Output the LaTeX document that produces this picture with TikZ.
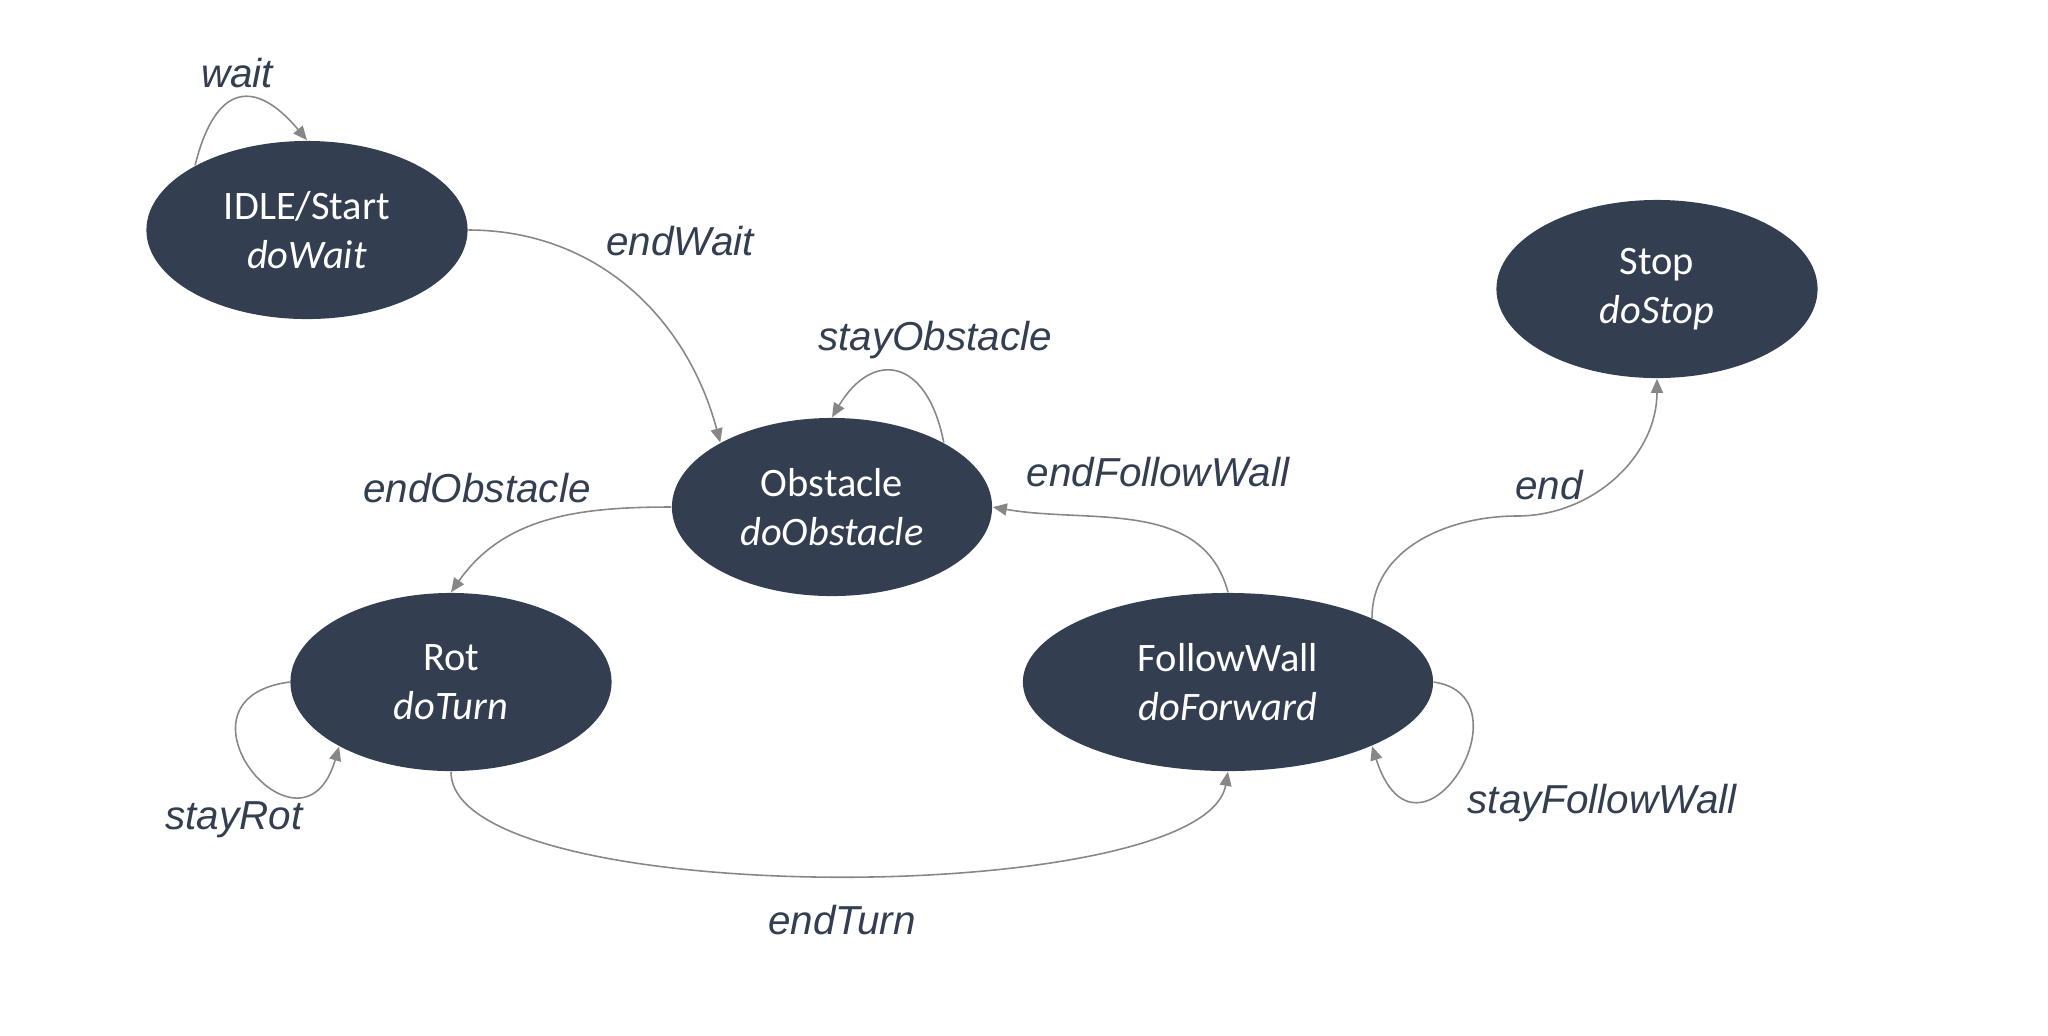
\documentclass[tikz,border=0pt]{standalone}
\usepackage{fontspec}
\setmainfont{Carlito}
\newfontfamily\labelFont{Liberation Sans}
\usetikzlibrary{shapes.geometric, arrows.meta}
\definecolor{stateColor}{RGB}{51,63,80}
\definecolor{arrowColor}{RGB}{135,135,135}
\tikzstyle{diagram} = [x = .01cm, y = .01cm]
\tikzstyle{stateStyle} = [ellipse, fill=stateColor, text=white, minimum height = 1.78cm, inner sep = 0pt, align=center, font=\fontsize{11.5}{14}\selectfont]
\tikzstyle{transitionStyle} = [draw=arrowColor, line width = .45pt, -{Triangle[length=4pt, width=3.4pt]}]
\tikzstyle{labelStyle} = [text=stateColor, inner sep = 0pt, font=\labelFont\itshape\fontsize{11.5}{14}\selectfont]
\newcommand{\stateNode}[5]{\node [stateStyle, minimum width = #5] (#1) at #2 {#3\\\textit{#4}};}
\newcommand{\transitionLabel}[3]{\node [labelStyle] (#1) at #2 {#3};}
\begin{document}
\begin{tikzpicture}[diagram]
  \useasboundingbox (0,0) rectangle (2048,-1035);
  \stateNode{idle}{(307,-230)}{IDLE/Start}{doWait}{3.21cm}
  \stateNode{stop}{(1657,-289)}{Stop}{doStop}{3.21cm}
  \stateNode{obstacle}{(832,-507)}{Obstacle}{doObstacle}{3.20cm}
  \stateNode{rot}{(451,-682)}{Rot}{doTurn}{3.21cm}
  \stateNode{followWall}{(1228,-682)}{FollowWall}{doForward}{4.10cm}

  % self loops
  \draw [transitionStyle] (idle.150) .. controls +(21,85) and +(-50,60) .. (idle.north);
  \draw [transitionStyle] (obstacle.30) .. controls +(-17,86) and +(40,67) .. (obstacle.north);
  \draw [transitionStyle] (rot.west) .. controls +(-131,-17) and +(-37,-127) .. (rot.210);
  \draw [transitionStyle] (followWall.east) .. controls +(100,-15) and +(45,-140) .. (followWall.-24);

  % transitions between states
  \draw [transitionStyle] (idle.east) to [out=0, in=105] (obstacle.150);
  \draw [transitionStyle] (obstacle.west) to [out=180, in=55] (rot.north);
  \draw [transitionStyle] (followWall.north) to [out=105, in=-10] (obstacle.east);
  \draw [transitionStyle] (rot.south) to [out=-90, in=-100, looseness=.46] (followWall.south);
  \coordinate (endBend) at (1517,-516);
  \draw [transitionStyle] (followWall.24) to [out=90, in=180] (endBend) to [out=0, in=-90] (stop.south);

  \transitionLabel{waitLabel}{(237,-73)}{wait}
  \transitionLabel{endWaitLabel}{(680,-241)}{endWait}
  \transitionLabel{stayObstacleLabel}{(935,-340)}{stayObstacle}
  \transitionLabel{endObstacleLabel}{(477,-488)}{endObstacle}
  \transitionLabel{endFollowWallLabel}{(1158,-472)}{endFollowWall}
  \transitionLabel{endLabel}{(1549,-485)}{end}
  \transitionLabel{stayRotLabel}{(234,-820)}{stayRot}
  \transitionLabel{stayFollowWallLabel}{(1602,-803)}{stayFollowWall}
  \transitionLabel{endTurnLabel}{(842,-920)}{endTurn}
\end{tikzpicture}
\end{document}
